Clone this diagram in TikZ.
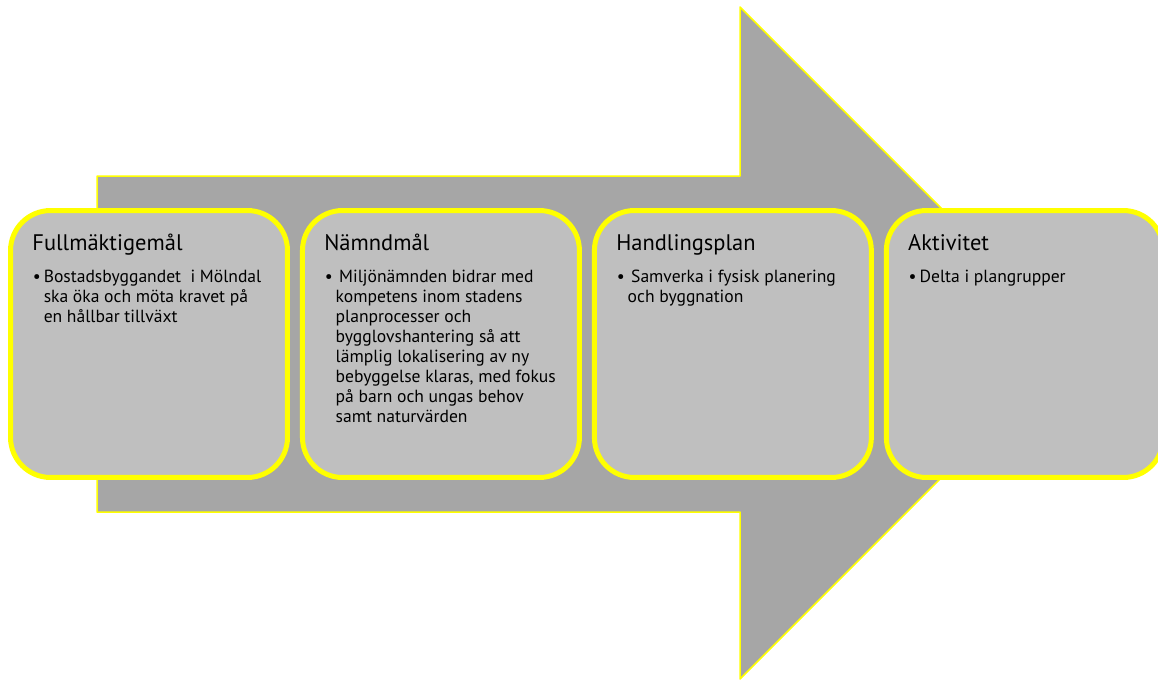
\documentclass[tikz,border=0pt]{standalone}
\usepackage{fontspec}
\setmainfont{PT Sans}
\usetikzlibrary{positioning}
\definecolor{arrowgray}{HTML}{A6A6A6}
\definecolor{boxgray}{HTML}{BFBFBF}
\definecolor{goalyellow}{HTML}{FFFF00}
\newcommand{\goalitem}[1]{\makebox[6.2pt][l]{\textbullet}\begin{tabular}[t]{@{}l@{}}#1\end{tabular}}

\begin{document}
\begin{tikzpicture}[line join=round,x=0.02cm,y=-0.02cm,
	goalbox/.style={draw=goalyellow,line width=0.1cm,fill=boxgray,rounded corners=0.8cm,minimum width=5.54cm,minimum height=5.34cm,inner sep=0pt,outer sep=0pt},
	goaltitle/.style={anchor=base west,inner sep=0pt,font=\fontsize{12.8}{16}\selectfont},
	goalbody/.style={anchor=base west,inner sep=0pt,font=\fontsize{10}{11.4}\selectfont}]
	\useasboundingbox (0,0) rectangle (1158,680);
	\clip (0,0) rectangle (1158,680);
	% pil
	\draw [line width=0.03cm,draw=goalyellow,fill=arrowgray] (97,176) -- (740,176) -- (740,7) -- (1076,343) -- (740,679) -- (740,512) -- (97,512) -- cycle;

	% rutor
	\node[goalbox] (fmal) at (149,344) {};
	\node[goalbox,right=0.3cm of fmal] (nmal) {};
	\node[goalbox,right=0.3cm of nmal] (hplan) {};
	\node[goalbox,right=0.3cm of hplan] (akt) {};

	% rubriker
	\node[goaltitle] (fmal-t) at ([shift={(21.5,39.5)}]fmal.north west) {Fullmäktigemål};
	\node[goaltitle] (nmal-t) at ([shift={(21.5,39.5)}]nmal.north west) {Nämndmål};
	\node[goaltitle] (hplan-t) at ([shift={(21.5,39.5)}]hplan.north west) {Handlingsplan};
	\node[goaltitle] (akt-t) at ([shift={(21.5,39.5)}]akt.north west) {Aktivitet};

	% punkter
	\node[goalbody] (fmal-b) at ([shift={(22,71.5)}]fmal.north west) {\goalitem{Bostadsbyggandet\ \ i Mölndal\\ska öka och möta kravet på\\en hållbar tillväxt}};
	\node[goalbody] (nmal-b) at ([shift={(22,71.5)}]nmal.north west) {\goalitem{\hspace{2pt}Miljönämnden bidrar med\\kompetens inom stadens\\planprocesser och\\bygglovshantering så att\\lämplig lokalisering av ny\\bebyggelse klaras, med fokus\\på barn och ungas behov\\samt naturvärden}};
	\node[goalbody] (hplan-b) at ([shift={(22,71.5)}]hplan.north west) {\goalitem{\hspace{2pt}Samverka i fysisk planering\\och byggnation}};
	\node[goalbody] (akt-b) at ([shift={(22,71.5)}]akt.north west) {\goalitem{Delta i plangrupper}};
\end{tikzpicture}
\end{document}
